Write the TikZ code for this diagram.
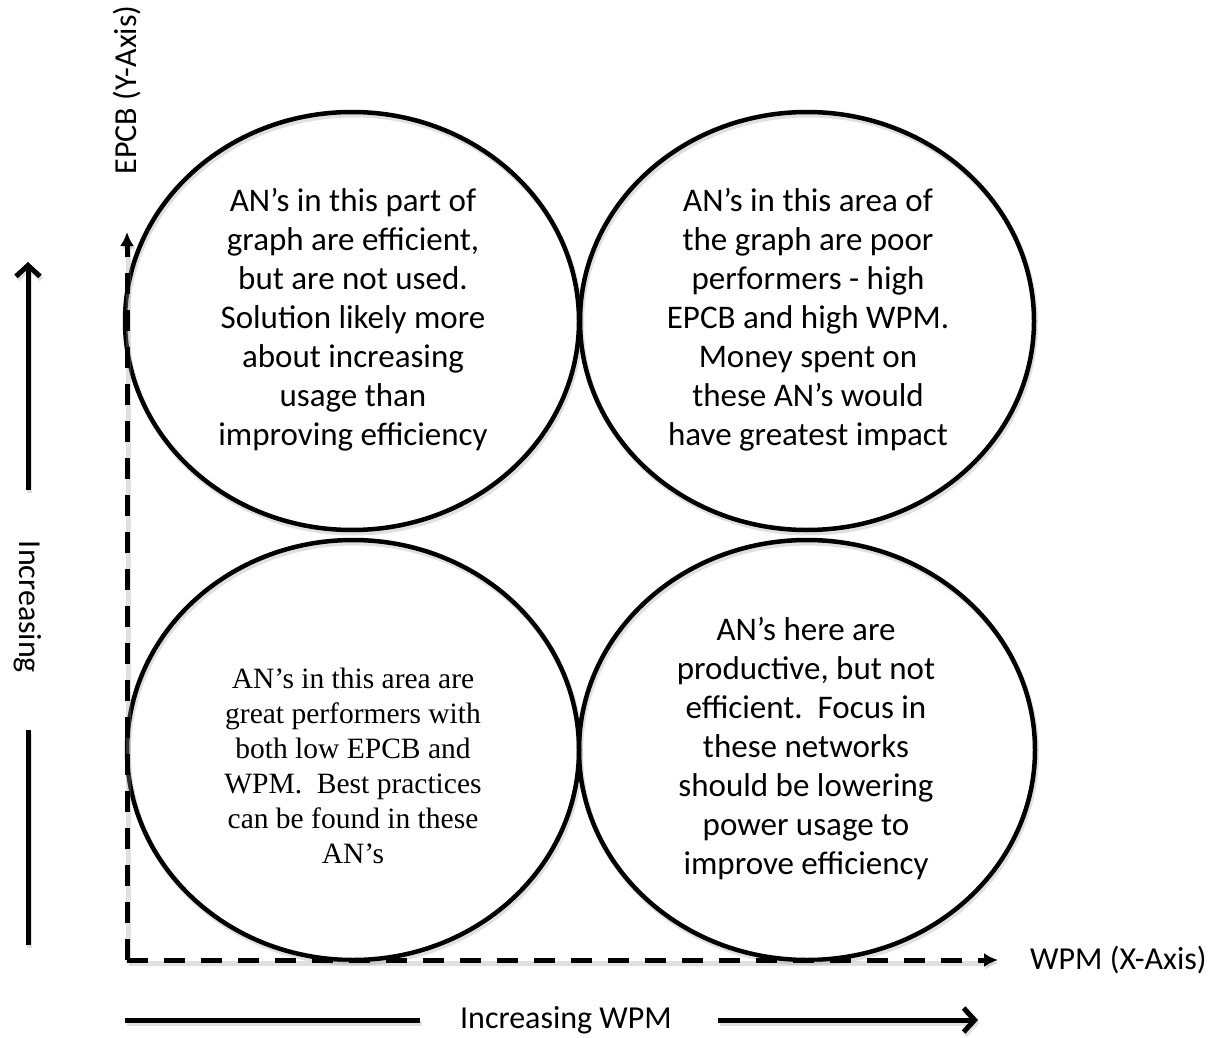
\documentclass[tikz,border=0pt]{standalone}
\usepackage{fontspec}
\setmainfont{Carlito}
\newfontfamily\timesfont{Liberation Serif}
\usetikzlibrary{arrows.meta}
\begin{document}
\begin{tikzpicture}[x=1pt,y=-1pt,
  softshadow/.style={preaction={draw=black!40, opacity=0.3, line width=5pt,
      transform canvas={shift={(1.5pt,-3pt)}}}},
  bubble/.style={draw=black, line width=4.5pt, softshadow},
  bubbletext/.style={align=center, font=\fontsize{33}{39}\selectfont, inner sep=0pt},
  serifbubbletext/.style={align=center, font=\timesfont\fontsize{29.5}{35}\selectfont, inner sep=0pt},
  axis/.style={line width=5pt, dash pattern=on 21pt off 16pt, softshadow,
      -{Latex[length=14pt,width=14pt]}},
  guide/.style={line width=5pt, softshadow},
  guidearrow/.style={line width=5pt, softshadow, -{Straight Barb[length=11pt,width=24pt]}},
  label/.style={font=\fontsize{32}{36}\selectfont, inner sep=0pt}]
\useasboundingbox (0,0) rectangle (1210,1038);

% quadrant ellipses
\draw[bubble] (352,321) ellipse [x radius=227, y radius=209];
\draw[bubble] (807,321) ellipse [x radius=227, y radius=209];
\draw[bubble] (353,750) ellipse [x radius=226, y radius=210];
\draw[bubble] (807,750) ellipse [x radius=228, y radius=210];

% quadrant texts
\node[bubbletext] (tl) at (353,320) {AN’s in this part of\\graph are efficient,\\but are not used.\\Solution likely more\\about increasing\\usage than\\improving efficiency};
\node[bubbletext] (tr) at (808,320) {AN’s in this area of\\the graph are poor\\performers - high\\EPCB and high WPM.\\Money spent on\\these AN’s would\\have greatest impact};
\node[serifbubbletext] (bl) at (353,766) {AN’s in this area are\\great performers with\\both low EPCB and\\WPM.\ \ Best practices\\can be found in these\\AN’s};
\node[bubbletext] (br) at (806,749) {AN’s here are\\productive, but not\\efficient.\ \ Focus in\\these networks\\should be lowering\\power usage to\\improve efficiency};

% axes
\coordinate (origin) at (127,960);
\coordinate (ytip) at (127,232);
\coordinate (xtip) at (998,960);
\draw[axis] (origin) -- (ytip);
\draw[axis] (origin) -- (xtip);
\node[label, anchor=west] (xlabel) at (1030,960) {WPM (X-Axis)};
\node[label, rotate=90] (ylabel) at (127,90) {EPCB (Y-Axis)};

% vertical "Increasing" guide
\node[label, rotate=-90] (incy) at (28,607) {Increasing};
\coordinate (vtop) at (28,262);
\coordinate (vmid) at (28,490);
\coordinate (vlow) at (28,730);
\coordinate (vbot) at (28,945);
\draw[guidearrow] (vmid) -- (vtop);
\draw[guide] (vbot) -- (vlow);

% horizontal "Increasing WPM" guide
\node[label] (incx) at (566,1020) {Increasing WPM};
\coordinate (hleft) at (125,1020);
\coordinate (hmid1) at (420,1020);
\coordinate (hmid2) at (718,1020);
\coordinate (hright) at (978,1020);
\draw[guide] (hleft) -- (hmid1);
\draw[guidearrow] (hmid2) -- (hright);
\end{tikzpicture}
\end{document}
